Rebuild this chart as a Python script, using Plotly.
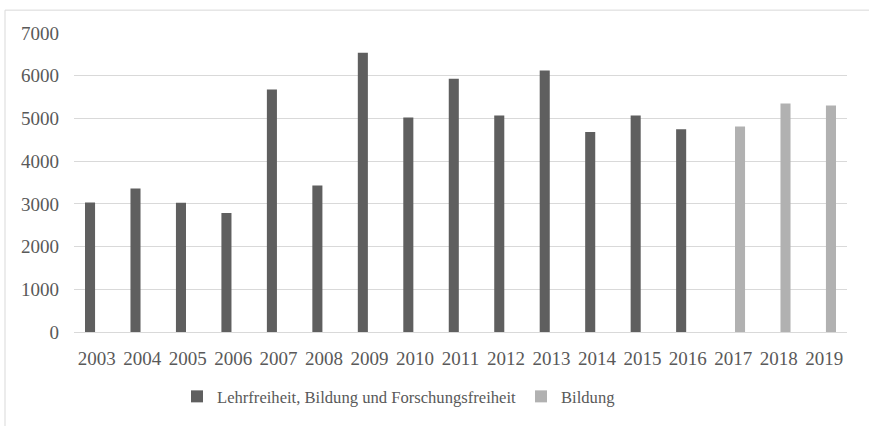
import plotly.graph_objects as go

# Annual counts, split by the category label used in each period
years_old = ["2003", "2004", "2005", "2006", "2007", "2008", "2009", "2010",
             "2011", "2012", "2013", "2014", "2015", "2016"]
values_old = [3030, 3360, 3025, 2785, 5675, 3430, 6535, 5020,
              5930, 5070, 6125, 4680, 5070, 4745]

years_new = ["2017", "2018", "2019"]
values_new = [4810, 5350, 5300]

all_years = years_old + years_new
y_ticks = [0, 1000, 2000, 3000, 4000, 5000, 6000, 7000]

DARK = "#5f5f5f"
LIGHT = "#b1b1b1"
TEXT = "#595959"
GRID = "#d9d9d9"
FONT = "Liberation Serif"

fig = go.Figure()
fig.add_trace(go.Bar(
    x=years_old, y=values_old,
    name="Lehrfreiheit, Bildung und Forschungsfreiheit",
    offsetgroup="a",
    marker=dict(color=DARK, line=dict(width=0)),
))
fig.add_trace(go.Bar(
    x=years_new, y=values_new,
    name="Bildung",
    offsetgroup="b",
    marker=dict(color=LIGHT, line=dict(width=0)),
))

W, H = 869, 426
L, R, T, B = 74, 22, 33, 92
pw, ph = W - L - R, H - T - B

def px_to_paper_x(px):
    return (px - L) / pw

def px_to_paper_y(py):
    return (H - B - py) / ph

fig.update_layout(
    width=W, height=H,
    margin=dict(l=L, r=R, t=T, b=B, pad=0),
    paper_bgcolor="white",
    plot_bgcolor="white",
    barmode="group",
    bargap=0.41,
    bargroupgap=0.25,
    font=dict(family=FONT, size=19, color=TEXT),
    xaxis=dict(
        type="category",
        categoryorder="array",
        categoryarray=all_years,
        showgrid=False,
        showline=True,
        linecolor=GRID,
        linewidth=1,
        ticks="",
        tickfont=dict(family=FONT, size=19, color=TEXT),
        ticklabelstandoff=9,
    ),
    yaxis=dict(
        range=[0, 7000],
        tickvals=y_ticks,
        showgrid=True,
        gridcolor=GRID,
        gridwidth=1,
        zeroline=False,
        showline=False,
        ticks="",
        tickfont=dict(family=FONT, size=19, color=TEXT),
        ticklabelstandoff=14,
    ),
    legend=dict(
        orientation="h",
        x=px_to_paper_x(177),
        xanchor="left",
        y=px_to_paper_y(399),
        yanchor="middle",
        font=dict(family=FONT, size=16.6, color=TEXT),
        bgcolor="rgba(0,0,0,0)",
        itemwidth=30,
    ),
    shapes=[dict(
        type="rect", xref="paper", yref="paper",
        x0=px_to_paper_x(5), x1=px_to_paper_x(900),
        y0=px_to_paper_y(460), y1=px_to_paper_y(10),
        line=dict(color=GRID, width=1),
        fillcolor="rgba(0,0,0,0)",
        layer="below",
    )],
)

fig.write_html("out.html")
